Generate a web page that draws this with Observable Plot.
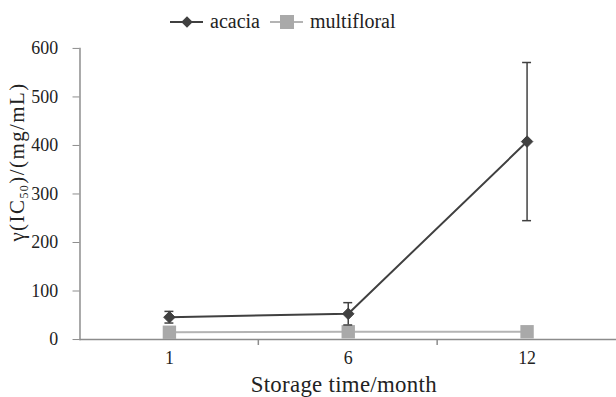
<!DOCTYPE html>
<html><head><meta charset="utf-8">
<script src="https://cdn.jsdelivr.net/npm/d3@7"></script>
<script src="https://cdn.jsdelivr.net/npm/@observablehq/plot@0.6"></script>
<style>
html,body{margin:0;padding:0;background:#fff;overflow:hidden;width:616px;height:397px;}
body{font-family:"Liberation Serif",serif;color:#222;}
#legend{height:38px;position:relative;}
#chart{position:relative;}
svg text{font-family:"Liberation Serif",serif;}
</style></head><body>
<div id="legend"></div>
<div id="chart"></div>
<script>
const months = ["1", "6", "12"];
const acacia = [46, 53, 408];
const acaciaErr = [12, 23, 163];
const multifloral = [15, 16, 16];
const multifloralErr = [2, 2, 2];
const yTicks = [0, 100, 200, 300, 400, 500, 600];
const seriesNames = ["acacia", "multifloral"];
const seriesColors = ["#404040", "#a9a9a9"];
const lineColors = ["#404040", "#b4b4b4"];

const acaciaData = months.map((m, i) => ({month: m, value: acacia[i], err: acaciaErr[i]}));
const multiData = months.map((m, i) => ({month: m, value: multifloral[i], err: multifloralErr[i]}));

const FONT = "'Liberation Serif', serif";
const W = 620, H = 359;
const ml = 80, mr = 0;
const bw = (W - ml - mr) / months.length;
const capInset = (bw - 9) / 2;

const plot = Plot.plot({
  width: W, height: H,
  marginLeft: ml, marginRight: mr, marginTop: 10, marginBottom: 56,
  style: {fontFamily: FONT, fontSize: "18px", color: "#222", background: "#fff", overflow: "visible"},
  x: {type: "band", domain: months, padding: 0, label: null},
  y: {domain: [0, 600], label: null},
  marks: [
    Plot.axisY({ticks: yTicks, tickSize: 7, tickPadding: 15, stroke: "#8c8c8c", fill: "#222", fontSize: 18, fontFamily: FONT, label: null}),
    Plot.axisX({tickSize: 0, tickPadding: 12, fill: "#222", fontSize: 18, fontFamily: FONT, label: null}),
    Plot.frame({anchor: "left", stroke: "#8c8c8c", strokeWidth: 1.5}),
    Plot.ruleY([0], {stroke: "#8c8c8c", strokeWidth: 1.5}),
    // multifloral
    Plot.ruleX(multiData, {x: "month", y1: d => d.value - d.err, y2: d => d.value + d.err, stroke: seriesColors[1]}),
    Plot.line(multiData, {x: "month", y: "value", stroke: lineColors[1], strokeWidth: 2}),
    Plot.dot(multiData, {x: "month", y: "value", symbol: "square", r: 7.6, fill: seriesColors[1], stroke: "none"}),
    // acacia
    Plot.ruleX(acaciaData, {x: "month", y1: d => d.value - d.err, y2: d => d.value + d.err, stroke: seriesColors[0], strokeWidth: 1.5}),
    Plot.tickY(acaciaData, {x: "month", y: d => d.value + d.err, stroke: seriesColors[0], strokeWidth: 1.5, insetLeft: capInset, insetRight: capInset}),
    Plot.tickY(acaciaData, {x: "month", y: d => d.value - d.err, stroke: seriesColors[0], strokeWidth: 1.5, insetLeft: capInset, insetRight: capInset}),
    Plot.line(acaciaData, {x: "month", y: "value", stroke: lineColors[0], strokeWidth: 2}),
    Plot.dot(acaciaData, {x: "month", y: "value", symbol: "diamond2", r: 5.2, fill: seriesColors[0], stroke: seriesColors[0], strokeWidth: 1})
  ]
});
document.getElementById("chart").appendChild(plot);

// x tick marks at band boundaries and axis titles
const svg = d3.select(plot);
const xs = plot.scale("x");
const ys = plot.scale("y");
const y0 = ys.apply(0);
for (let i = 0; i < months.length - 1; i++) {
  const bx = xs.apply(months[i]) + xs.bandwidth;
  svg.append("line").attr("x1", bx).attr("x2", bx).attr("y1", y0).attr("y2", y0 + 6)
    .attr("stroke", "#8c8c8c").attr("stroke-width", 1.5);
}
svg.append("text").attr("x", ml + (W - ml - mr) / 2 - 4).attr("y", H - 3)
  .attr("text-anchor", "middle").attr("font-size", 23).attr("fill", "#222")
  .style("font-family", FONT).style("letter-spacing", "0.3px")
  .text("Storage time/month");
const yl = svg.append("text").attr("transform", `translate(24,${ys.apply(365)}) rotate(-90)`)
  .attr("text-anchor", "middle").attr("font-size", 21).attr("fill", "#222")
  .style("font-family", FONT).style("letter-spacing", "1.5px");
yl.append("tspan").text("γ(IC");
yl.append("tspan").attr("font-size", 12).attr("dy", 4).text("50");
yl.append("tspan").attr("dy", -4).text(")/(mg/mL)");

// legend
const leg = d3.select("#legend").append("svg").attr("width", 616).attr("height", 38);
const items = [
  {name: seriesNames[0], x: 170, sym: "diamond"},
  {name: seriesNames[1], x: 270, sym: "square"}
];
items.forEach((it, i) => {
  const g = leg.append("g");
  g.append("line").attr("x1", it.x).attr("x2", it.x + 33).attr("y1", 22).attr("y2", 22)
    .attr("stroke", lineColors[i]).attr("stroke-width", 2);
  if (it.sym === "diamond") {
    g.append("path").attr("d", d3.symbol(d3.symbolDiamond2, 85)()).attr("transform", `translate(${it.x + 17},22)`)
      .attr("fill", seriesColors[i]);
  } else {
    g.append("rect").attr("x", it.x + 10).attr("y", 15).attr("width", 14).attr("height", 14).attr("fill", seriesColors[i]);
  }
  g.append("text").attr("x", it.x + 40).attr("y", 28).attr("font-size", 20).attr("fill", "#222")
    .style("font-family", FONT).text(it.name);
});
</script>
</body></html>
